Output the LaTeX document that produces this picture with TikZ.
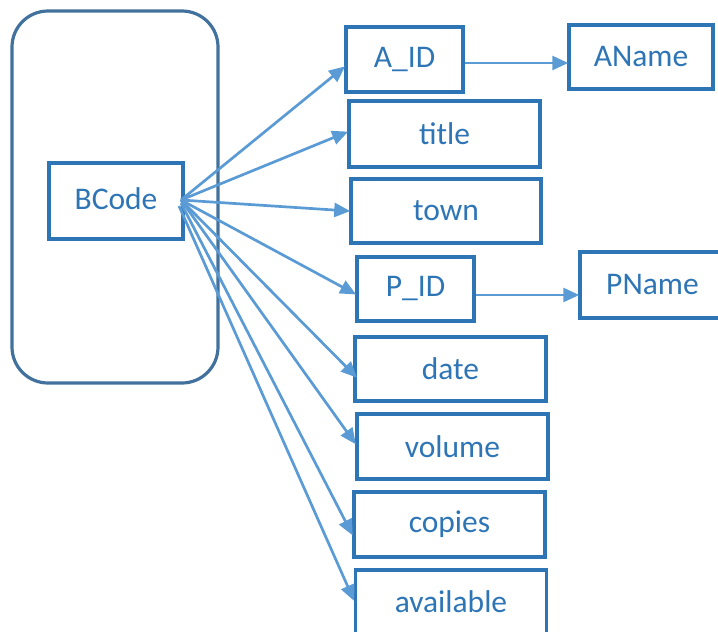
\documentclass[tikz,border=0pt]{standalone}
\usepackage{fontspec}
\setmainfont{Carlito}
\usetikzlibrary{arrows.meta}
\definecolor{boxblue}{HTML}{2E75B6}
\definecolor{arrblue}{HTML}{5B9BD5}
\definecolor{outerblue}{HTML}{41719C}
\begin{document}
\begin{tikzpicture}[x=1pt,y=-1pt,
  attr/.style={draw=boxblue, line width=3.5pt, text=boxblue, rectangle, inner sep=0pt,
    font=\fontsize{31.5}{37}\selectfont},
  arr/.style={draw=arrblue, line width=2.7pt, -{Triangle[length=16pt,width=14pt]}, shorten >=-1pt},
  outer/.style={draw=outerblue, line width=3.2pt, rounded corners=36pt}]
\useasboundingbox (0,0) rectangle (718,632);
\draw[outer] (12,11) rectangle (218,383);
\node[attr, minimum width=134pt, minimum height=76pt] (bcode) at (116,201) {\raisebox{5pt}{BCode}\hspace{8pt}};
\node[attr, minimum width=117pt, minimum height=65pt] (aid) at (404.5,59.5) {A\_ID\hspace{10pt}};
\node[attr, minimum width=144pt, minimum height=64pt] (aname) at (641,57) {AName};
\node[attr, minimum width=191pt, minimum height=66pt] (title) at (444.5,134) {title};
\node[attr, minimum width=190pt, minimum height=64pt] (town) at (446,211) {town};
\node[attr, minimum width=117pt, minimum height=64pt] (pid) at (415.5,289) {P\_ID\hspace{10pt}};
\node[attr, minimum width=145pt, minimum height=66pt] (pname) at (652.5,285) {PName\hspace{10pt}};
\node[attr, minimum width=191pt, minimum height=64pt] (date) at (450.5,369) {date};
\node[attr, minimum width=191pt, minimum height=65pt] (volume) at (452.5,446.5) {volume};
\node[attr, minimum width=191pt, minimum height=65pt] (copies) at (449.5,524.5) {copies};
\node[attr, minimum width=191pt, minimum height=64pt] (available) at (451,602) {available};
\coordinate (src) at (181,200);
\draw[arr] (src) -- ([yshift=-7.5pt]aid.west);
\draw[arr] (src) -- ([yshift=2pt]title.west);
\draw[arr] (src) -- (town.west);
\draw[arr] (src) -- ([yshift=-5pt]pid.west);
\draw[arr] (src) -- ([yshift=-8pt,xshift=3pt]date.west);
\draw[arr] (src) -- ([yshift=3pt]volume.west);
\draw[arr] ([yshift=-3pt]src) -- ([yshift=-10pt]copies.west);
\draw[arr] ([yshift=-6pt,xshift=-2pt]src) -- ([yshift=2pt]available.west);
\draw[arr] ([yshift=-3.5pt]aid.east) -- ([yshift=-3.5pt]aid.east -| aname.west);
\draw[arr] ([yshift=-6pt]pid.east) -- ([yshift=-6pt]pid.east -| pname.west);
\end{tikzpicture}
\end{document}
